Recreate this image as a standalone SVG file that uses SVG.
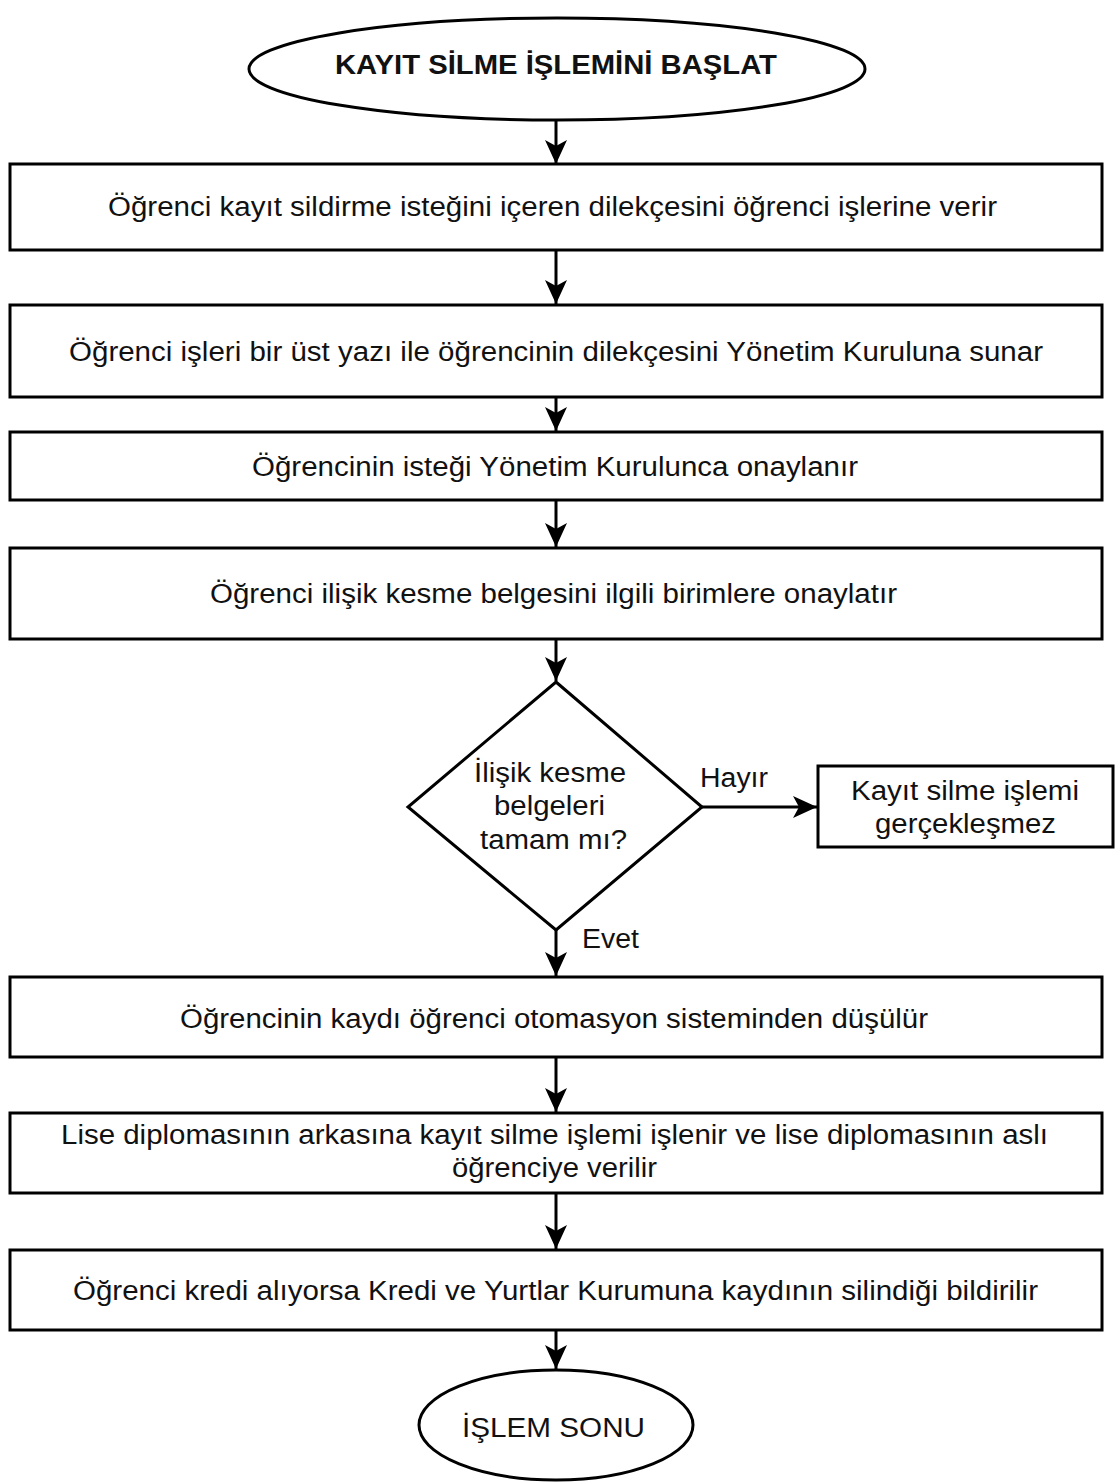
<svg xmlns="http://www.w3.org/2000/svg" width="1115" height="1484" viewBox="0 0 1115 1484">
<style>
.shape{fill:#fff;stroke:#000;stroke-width:3}
.t{font-family:"Liberation Sans",Arial,sans-serif;font-size:27px;fill:#111;text-anchor:middle}
.b{font-weight:bold}
.lbl{font-family:"Liberation Sans",Arial,sans-serif;font-size:27px;fill:#111}
.c{fill:none;stroke:#000;stroke-width:3}
</style>
<defs>
<marker id="ah" markerUnits="userSpaceOnUse" markerWidth="26" markerHeight="24" refX="24" refY="11" orient="auto">
<path d="M0,0 L24,11 L0,22 L6,11 Z" fill="#000"/>
</marker>
</defs>
<rect width="1115" height="1484" fill="#fff"/>
<g id="connectors">
<line class="c" x1="556" y1="120" x2="556" y2="164" marker-end="url(#ah)"/>
<line class="c" x1="556" y1="250" x2="556" y2="304" marker-end="url(#ah)"/>
<line class="c" x1="556" y1="397" x2="556" y2="431" marker-end="url(#ah)"/>
<line class="c" x1="556" y1="500" x2="556" y2="547" marker-end="url(#ah)"/>
<line class="c" x1="556" y1="639" x2="556" y2="681" marker-end="url(#ah)"/>
<line class="c" x1="702" y1="807" x2="817" y2="807" marker-end="url(#ah)"/>
<line class="c" x1="556" y1="930" x2="556" y2="976" marker-end="url(#ah)"/>
<line class="c" x1="556" y1="1057" x2="556" y2="1112" marker-end="url(#ah)"/>
<line class="c" x1="556" y1="1193" x2="556" y2="1249" marker-end="url(#ah)"/>
<line class="c" x1="556" y1="1330" x2="556" y2="1369" marker-end="url(#ah)"/>
<text class="lbl" x="700" y="787" textLength="68" lengthAdjust="spacingAndGlyphs">Hayır</text>
<text class="lbl" x="582" y="948" textLength="57" lengthAdjust="spacingAndGlyphs">Evet</text>
</g>
<g id="start">
<ellipse class="shape" cx="557" cy="69" rx="308" ry="51"/>
<text class="t b" x="556" y="74" textLength="442" lengthAdjust="spacingAndGlyphs">KAYIT SİLME İŞLEMİNİ BAŞLAT</text>
</g>
<g id="step1">
<rect class="shape" x="10" y="164" width="1092" height="86"/>
<text class="t" x="552.5" y="216" textLength="889" lengthAdjust="spacingAndGlyphs">Öğrenci kayıt sildirme isteğini içeren dilekçesini öğrenci işlerine verir</text>
</g>
<g id="step2">
<rect class="shape" x="10" y="305" width="1092" height="92"/>
<text class="t" x="556" y="361" textLength="974" lengthAdjust="spacingAndGlyphs">Öğrenci işleri bir üst yazı ile öğrencinin dilekçesini Yönetim Kuruluna sunar</text>
</g>
<g id="step3">
<rect class="shape" x="10" y="432" width="1092" height="68"/>
<text class="t" x="555" y="476" textLength="606" lengthAdjust="spacingAndGlyphs">Öğrencinin isteği Yönetim Kurulunca onaylanır</text>
</g>
<g id="step4">
<rect class="shape" x="10" y="548" width="1092" height="91"/>
<text class="t" x="553.5" y="603" textLength="687" lengthAdjust="spacingAndGlyphs">Öğrenci ilişik kesme belgesini ilgili birimlere onaylatır</text>
</g>
<g id="decision">
<polygon class="shape" points="556,682 702,807 556,930 408,807"/>
<text class="t" x="550" y="782" textLength="152" lengthAdjust="spacingAndGlyphs">İlişik kesme</text>
<text class="t" x="549.5" y="815" textLength="111" lengthAdjust="spacingAndGlyphs">belgeleri</text>
<text class="t" x="553.5" y="849" textLength="147" lengthAdjust="spacingAndGlyphs">tamam mı?</text>
</g>
<g id="no-result">
<rect class="shape" x="818" y="766" width="295" height="81"/>
<text class="t" x="965" y="800" textLength="228" lengthAdjust="spacingAndGlyphs">Kayıt silme işlemi</text>
<text class="t" x="965.5" y="833" textLength="181" lengthAdjust="spacingAndGlyphs">gerçekleşmez</text>
</g>
<g id="step5">
<rect class="shape" x="10" y="977" width="1092" height="80"/>
<text class="t" x="554" y="1028" textLength="748" lengthAdjust="spacingAndGlyphs">Öğrencinin kaydı öğrenci otomasyon sisteminden düşülür</text>
</g>
<g id="step6">
<rect class="shape" x="10" y="1113" width="1092" height="80"/>
<text class="t" x="554.5" y="1144" textLength="987" lengthAdjust="spacingAndGlyphs">Lise diplomasının arkasına kayıt silme işlemi işlenir ve lise diplomasının aslı</text>
<text class="t" x="554.5" y="1177" textLength="205" lengthAdjust="spacingAndGlyphs">öğrenciye verilir</text>
</g>
<g id="step7">
<rect class="shape" x="10" y="1250" width="1092" height="80"/>
<text class="t" x="555.5" y="1300" textLength="965" lengthAdjust="spacingAndGlyphs">Öğrenci kredi alıyorsa Kredi ve Yurtlar Kurumuna kaydının silindiği bildirilir</text>
</g>
<g id="end">
<ellipse class="shape" cx="556" cy="1425" rx="137" ry="55"/>
<text class="t" x="553.5" y="1437" textLength="183" lengthAdjust="spacingAndGlyphs">İŞLEM SONU</text>
</g>
</svg>
